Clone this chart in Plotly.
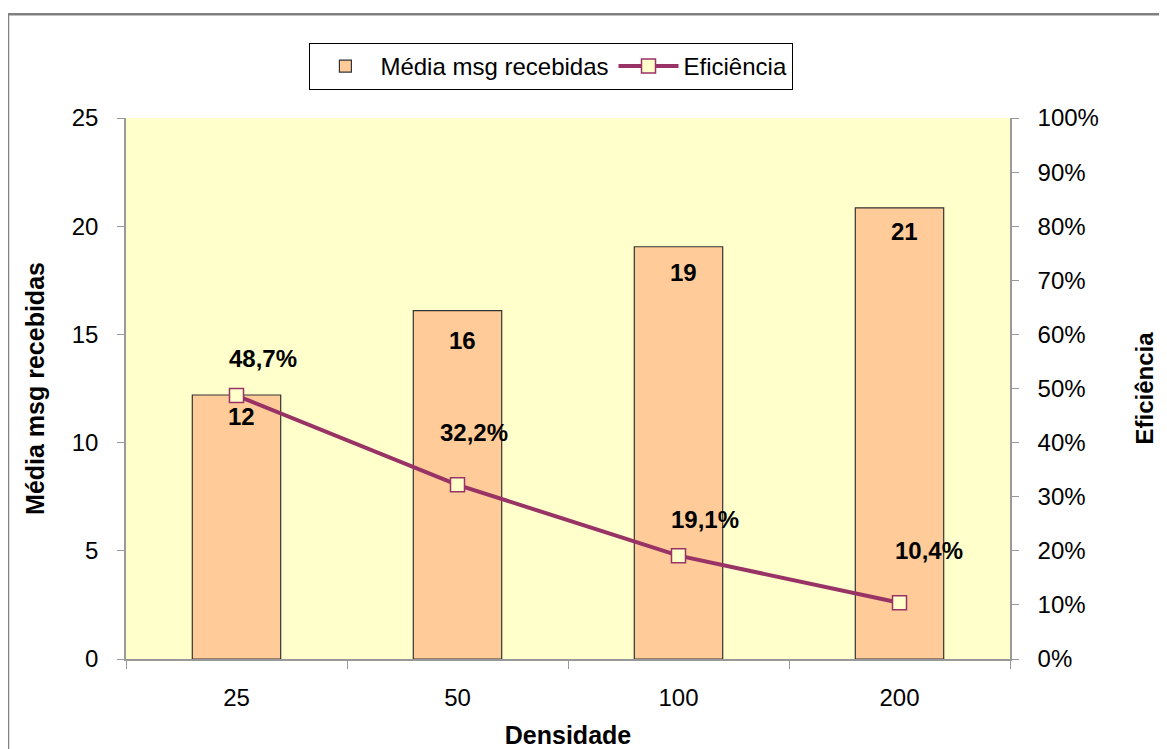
import plotly.graph_objects as go

categories = ["25", "50", "100", "200"]
media_msg = [12.2, 16.1, 19.05, 20.85]
eficiencia = [0.487, 0.322, 0.191, 0.104]
eff_xshift = [26, 16, 26, 29]
eff_yshift = [37, 52, 36, 52]
bar_yshift = [-22, -30, -26, -24]

FONT = "Liberation Sans, Arial, sans-serif"
TS = 24
TT = 25

fig = go.Figure()
fig.add_trace(go.Bar(
    x=categories, y=media_msg, name="Média msg recebidas",
    marker=dict(color="#FFCC99", line=dict(color="#333333", width=1.2)),
    width=0.4,
))
fig.add_trace(go.Scatter(
    x=categories, y=eficiencia, name="Eficiência", yaxis="y2",
    mode="lines+markers",
    line=dict(color="#993366", width=4),
    marker=dict(symbol="square", size=14, color="#FFFFCC", line=dict(color="#993366", width=1.5)),
))

for i, (v, dy) in enumerate(zip(media_msg, bar_yshift)):
    fig.add_annotation(x=i, xref="x", y=v, yref="y", text=f"{v:.0f}",
                       showarrow=False, xshift=5, yshift=dy,
                       font=dict(family=FONT, size=TS, color="black", weight="bold"))

for i, (v, dx, dy) in enumerate(zip(eficiencia, eff_xshift, eff_yshift)):
    fig.add_annotation(x=i, xref="x", y=v, yref="y2", text=f"{v*100:.1f}%".replace(".", ","),
                       showarrow=False, xshift=dx, yshift=dy,
                       font=dict(family=FONT, size=TS, color="black", weight="bold"))

fig.update_layout(
    width=1159, height=741,
    margin=dict(l=118, r=157, t=110, b=90),
    paper_bgcolor="white", plot_bgcolor="#FFFFCC",
    font=dict(family=FONT, size=TS, color="black"),
    showlegend=True,
    legend=dict(orientation="h", x=0.481, y=1.139, xanchor="center", yanchor="top",
                bordercolor="black", borderwidth=1.2, bgcolor="white", itemwidth=60,
                font=dict(family=FONT, size=24, color="black"), traceorder="normal"),
    xaxis=dict(
        type="category", categoryorder="array", categoryarray=categories,
        range=[-0.5, 3.5], automargin=False,
        showgrid=False, showline=True, linecolor="#999999", linewidth=1.5,
        ticks="outside", ticklen=8, tickcolor="#999999", tickson="boundaries",
        ticklabelstandoff=16, tickangle=0, tickfont=dict(size=TS),
        title=dict(text="<b>Densidade</b>", standoff=20, font=dict(family=FONT, size=TT)),
    ),
    yaxis=dict(
        range=[0, 25], dtick=5, automargin=False, showgrid=False, showline=True,
        linecolor="#999999", linewidth=1.5, tickfont=dict(size=TS),
        ticks="outside", ticklen=7, tickcolor="#999999", ticklabelstandoff=14, zeroline=False,
        title=dict(text="<b>Média msg recebidas</b>", standoff=20, font=dict(family=FONT, size=TT)),
    ),
    yaxis2=dict(
        range=[0, 1], dtick=0.1, tickformat=".0%", overlaying="y", side="right",
        automargin=False, showgrid=False, showline=True, linecolor="#999999", linewidth=1.5,
        ticks="outside", ticklen=7, tickcolor="#999999", ticklabelstandoff=14, zeroline=False,
        tickfont=dict(size=TS),
        title=dict(text="<b>Eficiência</b>", standoff=38, font=dict(family=FONT, size=24)),
    ),
)

# outer chart border (top and left edges visible)
fig.add_shape(type="line", xref="paper", yref="paper", x0=-0.1335, x1=1.3, y0=1.192, y1=1.192,
              line=dict(color="#808080", width=2.5))
fig.add_shape(type="line", xref="paper", yref="paper", x0=-0.1335, x1=-0.1335, y0=1.192, y1=-0.2,
              line=dict(color="#808080", width=2.5))

fig.write_html("out.html")
